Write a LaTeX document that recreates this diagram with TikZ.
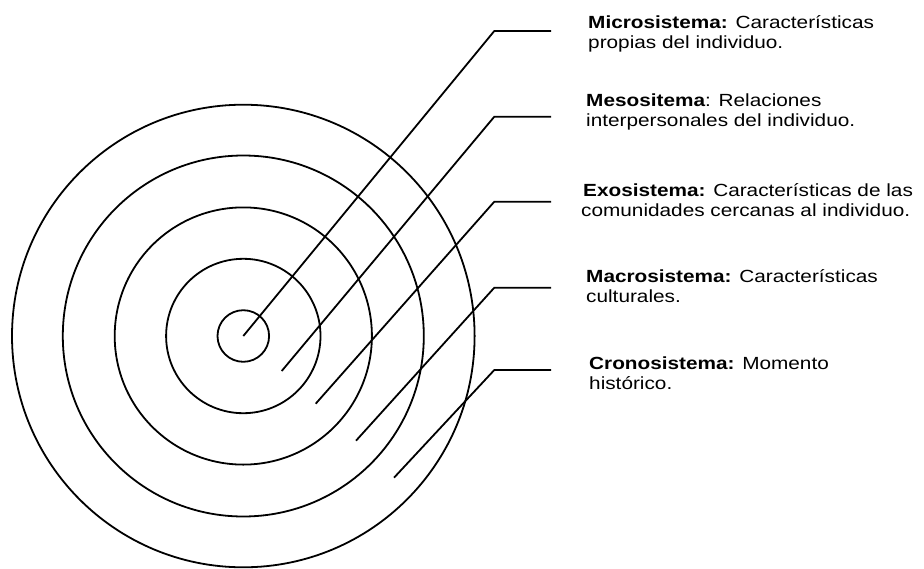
\documentclass[tikz,border=0pt]{standalone}
\usepackage{fontspec}
\newfontfamily\labfont{Liberation Sans}[FakeStretch=1.18]
\begin{document}
\begin{tikzpicture}[x=1pt,y=-1pt,
  ring/.style={line width=1.8pt},
  leader/.style={line width=1.8pt,line join=miter},
  lab/.style={anchor=base west,inner sep=0pt,font=\labfont\fontsize{17.6}{21}\selectfont}]
\useasboundingbox (0,0) rectangle (924,568);
\coordinate (c) at (243.3,336);
\foreach \r in {25.8,77.2,128.6,180.5,231.3}{
  \draw[ring] (c) circle[radius=\r];
}
% start points
\coordinate (s1) at (243.3,336);
\coordinate (s2) at (281.7,371);
\coordinate (s3) at (315.7,403.7);
\coordinate (s4) at (356,440.7);
\coordinate (s5) at (394,477.7);
% elbows
\coordinate (e1) at (494.3,31);
\coordinate (e2) at (494.3,116.7);
\coordinate (e3) at (494.3,201.7);
\coordinate (e4) at (494.3,287.7);
\coordinate (e5) at (494.3,370);
% ends
\coordinate (h1) at (551,31);
\coordinate (h2) at (551,116.7);
\coordinate (h3) at (551,201.7);
\coordinate (h4) at (551,287.7);
\coordinate (h5) at (551,370);
\foreach \i in {1,...,5}{
  \draw[leader] (s\i) -- (e\i) -- (h\i);
}
\node[lab] (t1) at (588,28) {\vtop{\baselineskip=20.7pt\hbox{\textbf{Microsistema:} Características}\hbox{propias del individuo.}}};
\node[lab] (t2) at (586,106) {\vtop{\baselineskip=20.7pt\hbox{\textbf{Mesositema}: Relaciones}\hbox{interpersonales del individuo.}}};
\node[lab] (t3) at (581,196) {\vtop{\baselineskip=20.7pt\hbox{\hspace{2pt}\textbf{Exosistema:} Características de las}\hbox{comunidades cercanas al individuo.}}};
\node[lab] (t4) at (586,282) {\vtop{\baselineskip=20.7pt\hbox{\textbf{Macrosistema:} Características}\hbox{culturales.}}};
\node[lab] (t5) at (589,369) {\vtop{\baselineskip=20.7pt\hbox{\textbf{Cronosistema:} Momento}\hbox{histórico.}}};
\end{tikzpicture}
\end{document}
